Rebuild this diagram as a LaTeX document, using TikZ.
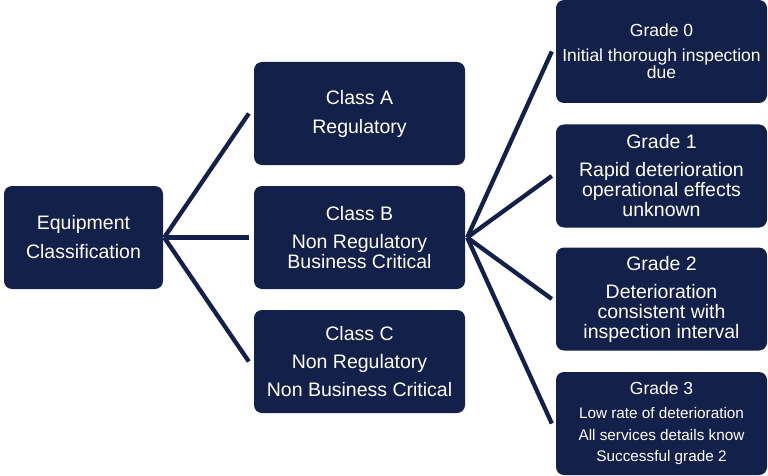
\documentclass[tikz,border=0pt]{standalone}
\usepackage{fontspec}
\setmainfont{Liberation Sans}
\definecolor{navy}{RGB}{19,32,74}
\begin{document}
\begin{tikzpicture}[x=1pt,y=1pt,
  box/.style={fill=navy, rounded corners=8pt, text=white, align=center,
    inner sep=0pt, minimum height=103pt},
  clsbox/.style={box, minimum width=211pt},
  big/.style={font=\fontsize{19.5}{20.5}\selectfont},
  gbig/.style={font=\fontsize{19.5}{20}\selectfont},
  conn/.style={draw=navy, line width=4.3pt}]
\useasboundingbox (0,0) rectangle (768,-476);
\node[box, big, minimum width=159pt] (equip) at (83.5,-237.5)
  {Equipment\\[8.5pt]Classification};
\node[clsbox, big] (ca) at (359.5,-113.5) {Class A\\[8.5pt]Regulatory};
\node[clsbox, big] (cb) at (359.5,-237.5) {Class B\\[7.5pt]Non Regulatory\\Business Critical};
\node[clsbox, big] (cc) at (359.5,-361.5) {Class C\\[7.5pt]Non Regulatory\\[7.5pt]Non Business Critical};
\node[clsbox, font=\fontsize{17.5}{17}\selectfont] (g0) at (661.5,-51.5)
  {Grade 0\\[8pt]Initial thorough inspection\\due};
\node[clsbox, gbig] (g1) at (661.5,-176) {Grade 1\\[8pt]Rapid deterioration\\operational effects\\unknown};
\node[clsbox, gbig] (g2) at (661.5,-299) {Grade 2\\[8pt]Deterioration\\consistent with\\inspection interval};
\node[clsbox, font=\fontsize{15.3}{21.5}\selectfont] (g3) at (661.5,-423.5)
  {{\fontsize{17.5}{21}\selectfont Grade 3}\\[2.5pt]Low rate of deterioration\\All services details know\\Successful grade 2};
\foreach \t in {ca,cb,cc}
  \draw[conn] ([xshift=1pt]equip.east) -- ([xshift=-5pt]\t.west);
\foreach \t in {g0,g1,g2,g3}
  \draw[conn] ([xshift=2pt]cb.east) -- ([xshift=-4pt]\t.west);
\end{tikzpicture}
\end{document}
